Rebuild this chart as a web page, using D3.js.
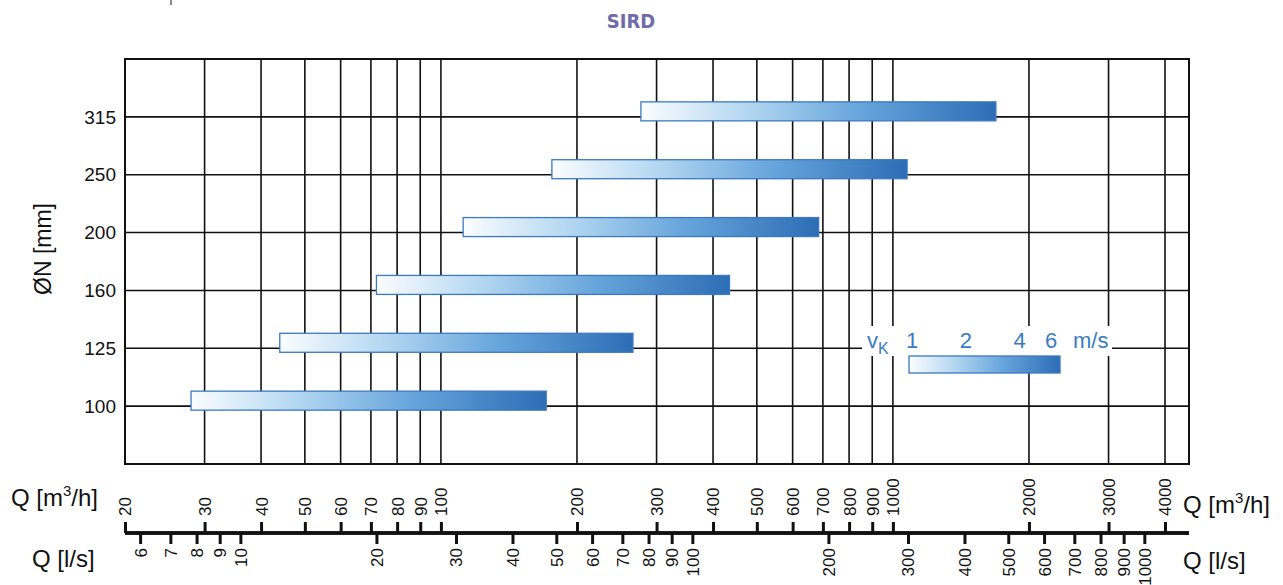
<!DOCTYPE html>
<html>
<head>
<meta charset="utf-8">
<script src="https://cdn.jsdelivr.net/npm/d3@7"></script>
<style>
  html, body { margin: 0; padding: 0; background: #fff; }
  svg { display: block; }
  text { font-family: "Liberation Sans", Arial, Helvetica, sans-serif; }
</style>
</head>
<body>
<svg id="chart" width="1283" height="585"></svg>
<script>
// ---- data ----
const diameters = ["100", "125", "160", "200", "250", "315"];
const qMin = [28, 44, 72, 112, 176, 277];       // m3/h at v = 1 m/s
const qMax = [171, 266, 435, 685, 1075, 1690];  // m3/h at v = 6 m/s
const qTicksM3h = [20, 30, 40, 50, 60, 70, 80, 90, 100, 200, 300, 400, 500, 600, 700, 800, 900, 1000, 2000, 3000, 4000];
const qTicksLs = [6, 7, 8, 9, 10, 20, 30, 40, 50, 60, 70, 80, 90, 100, 200, 300, 400, 500, 600, 700, 800, 900, 1000];
const vLegendTicks = [1, 2, 4, 6];
const vLegendBar = [1, 7];
const title = "SIRD";

// ---- layout ----
const svg = d3.select("#chart");
const plot = { left: 125, right: 1189, top: 59, bottom: 464 };
const qDomain = [20, 4520];

const x = d3.scaleLog().domain(qDomain).range([plot.left, plot.right]);
const xLs = d3.scaleLog().domain(qDomain.map(d => d / 3.6)).range([plot.left, plot.right]);
const y = d3.scalePoint().domain(diameters).range([plot.bottom, plot.top]).padding(1);
const vScale = d3.scaleLog().domain(vLegendBar).range([909, 1060]);

// gradient
const defs = svg.append("defs");
const grad = defs.append("linearGradient").attr("id", "barGrad")
  .attr("x1", "0%").attr("x2", "100%").attr("y1", "0%").attr("y2", "0%");
[[0, "#fbfdff"], [0.3, "#b3d7f1"], [0.62, "#67a5dc"], [1, "#2d6db5"]].forEach(([o, c]) =>
  grad.append("stop").attr("offset", o).attr("stop-color", c));

// title
svg.append("text").attr("x", 631).attr("y", 28).attr("text-anchor", "middle")
  .style("font-family", "'DejaVu Sans Condensed', 'DejaVu Sans', sans-serif")
  .style("font-weight", "bold").style("font-size", "20px").attr("fill", "#6f6aa9")
  .text(title);
// small cropped remnant at top-left
svg.append("line").attr("x1", 171).attr("x2", 171).attr("y1", 0).attr("y2", 5)
  .attr("stroke", "#888").attr("stroke-width", 2);

// grid
const grid = svg.append("g");
grid.selectAll("line.v").data(qTicksM3h.filter(d => d > qDomain[0])).join("line")
  .attr("x1", d => x(d)).attr("x2", d => x(d))
  .attr("y1", plot.top).attr("y2", plot.bottom)
  .attr("stroke", "#111").attr("stroke-width", 1.6);
grid.selectAll("line.h").data(diameters).join("line")
  .attr("x1", plot.left).attr("x2", plot.right)
  .attr("y1", d => y(d)).attr("y2", d => y(d))
  .attr("stroke", "#111").attr("stroke-width", 1.6);

// legend white box
svg.append("rect").attr("x", 862).attr("y", 326).attr("width", 250).attr("height", 30).attr("fill", "#fff");

// border
svg.append("rect").attr("x", plot.left).attr("y", plot.top)
  .attr("width", plot.right - plot.left).attr("height", plot.bottom - plot.top)
  .attr("fill", "none").attr("stroke", "#111").attr("stroke-width", 2);

// bars
svg.append("g").selectAll("rect").data(diameters).join("rect")
  .attr("x", (d, i) => x(qMin[i]))
  .attr("width", (d, i) => x(qMax[i]) - x(qMin[i]))
  .attr("y", d => y(d) - 15).attr("height", 19)
  .attr("fill", "url(#barGrad)").attr("stroke", "#3b79c2").attr("stroke-width", 1.3);

// y axis labels
svg.append("g").selectAll("text").data(diameters).join("text")
  .attr("x", 116).attr("y", d => y(d)).attr("dy", "0.35em")
  .attr("text-anchor", "end").style("font-size", "19px").attr("fill", "#111")
  .text(d => d);
svg.append("text").attr("transform", "translate(51,249) rotate(-90)")
  .attr("text-anchor", "middle").style("font-size", "23px").attr("fill", "#111")
  .text("ØN [mm]");

// legend
const lg = svg.append("g");
lg.append("rect").attr("x", vScale(vLegendBar[0])).attr("y", 356)
  .attr("width", vScale(vLegendBar[1]) - vScale(vLegendBar[0])).attr("height", 17)
  .attr("fill", "url(#barGrad)").attr("stroke", "#3b79c2").attr("stroke-width", 1.3);
const legendColor = "#3a7cc3";
lg.selectAll("text.v").data(vLegendTicks).join("text")
  .attr("x", d => vScale(d) + 3).attr("y", 348).attr("text-anchor", "middle")
  .style("font-size", "22px").attr("fill", legendColor).text(d => d);
lg.append("text").attr("x", 1073).attr("y", 348).style("font-size", "22px")
  .attr("fill", legendColor).text("m/s");
const vk = lg.append("text").attr("x", 867).attr("y", 348).style("font-size", "22px").attr("fill", legendColor);
vk.append("tspan").text("v");
vk.append("tspan").attr("dy", 6).style("font-size", "16px").text("K");

// bottom axes
const axisY = 533;
const axM = d3.axisTop(x).tickValues(qTicksM3h).tickFormat(d3.format("d")).tickSize(11).tickPadding(5);
const gM = svg.append("g").attr("transform", `translate(0,${axisY})`).call(axM);
const axL = d3.axisBottom(xLs).tickValues(qTicksLs).tickFormat(d3.format("d")).tickSize(11).tickPadding(4);
const gL = svg.append("g").attr("transform", `translate(0,${axisY})`).call(axL);

[gM, gL].forEach(g => {
  g.select(".domain").attr("stroke", "#111").attr("stroke-width", 3.5)
    .attr("d", `M${plot.left},0H${plot.right}`);
  g.selectAll(".tick line").attr("stroke", "#111").attr("stroke-width", 3);
  g.selectAll(".tick text").style("font-size", "17px").attr("fill", "#111")
    .style("font-family", "'Liberation Sans', Arial, sans-serif");
});
gM.selectAll(".tick text").attr("transform", "rotate(-90)")
  .attr("x", 17).attr("y", 0).attr("dy", "0.35em").attr("text-anchor", "start");
gL.selectAll(".tick text").attr("transform", "rotate(-90)")
  .attr("x", -15).attr("y", 0).attr("dy", "0.35em").attr("text-anchor", "end");

// axis titles
function qTitle(xp, yp, anchor, unitSup) {
  const t = svg.append("text").attr("x", xp).attr("y", yp).attr("text-anchor", anchor)
    .style("font-size", "24px").attr("fill", "#111");
  if (unitSup) {
    t.append("tspan").text("Q [m");
    t.append("tspan").attr("dy", -10).style("font-size", "15px").text("3");
    t.append("tspan").attr("dy", 10).text("/h]");
  } else {
    t.text("Q [l/s]");
  }
}
qTitle(11, 506, "start", true);
qTitle(1183, 513, "start", true);
qTitle(32, 567, "start", false);
qTitle(1183, 569, "start", false);
</script>
</body>
</html>
